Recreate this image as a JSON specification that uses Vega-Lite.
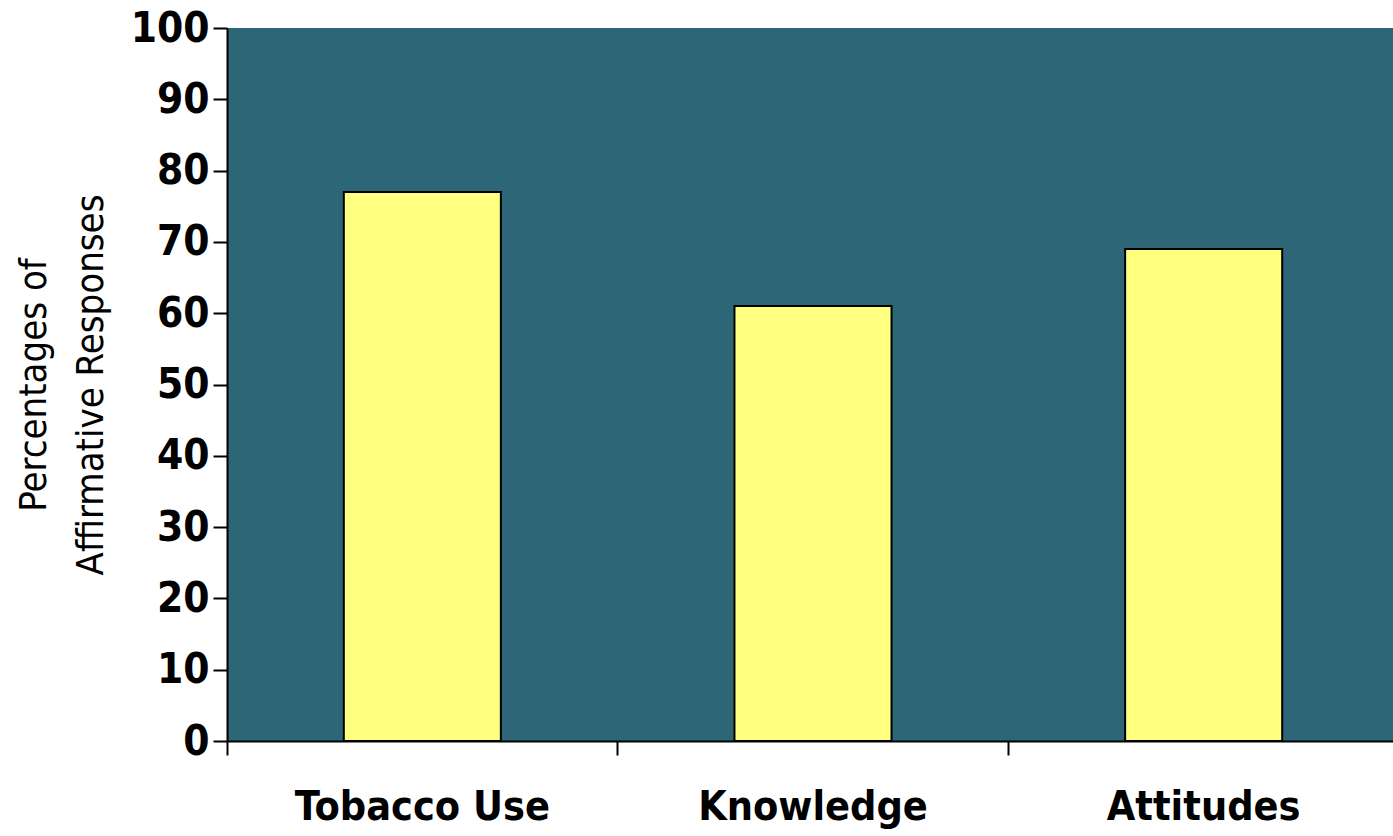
{
  "$schema": "https://vega.github.io/schema/vega-lite/v6.json",
  "width": 1172,
  "height": 713,
  "autosize": {"type": "none"},
  "padding": {"left": 227, "top": 28, "right": 0, "bottom": 95},
  "background": "white",
  "view": {"fill": "#2C6677", "stroke": null},
  "config": {"font": "'DejaVu Sans Condensed', Roboto, sans-serif"},
  "data": {
    "values": [
      {"category": "Tobacco Use", "value": 77},
      {"category": "Knowledge", "value": 61},
      {"category": "Attitudes", "value": 69}
    ]
  },
  "layer": [
    {
      "mark": {"type": "bar", "width": {"band": 0.402}, "fill": "#FFFF80", "stroke": "black", "strokeWidth": 2},
      "encoding": {
        "x": {
          "field": "category", "type": "nominal", "sort": null,
          "scale": {"paddingInner": 0, "paddingOuter": 0},
          "axis": {"orient": "bottom", "title": null, "labelAngle": 0, "ticks": false, "domain": false, "labelFontSize": 41, "labelFontWeight": "bold", "labelColor": "black", "labelPadding": 46, "labelLimit": 0}
        },
        "y": {
          "field": "value", "type": "quantitative",
          "scale": {"domain": [0, 100], "nice": false},
          "axis": {
            "values": [0, 10, 20, 30, 40, 50, 60, 70, 80, 90, 100],
            "grid": false, "tickSize": 14, "tickColor": "black", "tickWidth": 2,
            "domainColor": "black", "domainWidth": 2,
            "labelFontSize": 42, "labelFontWeight": "bold", "labelColor": "black", "labelPadding": 4,
            "title": ["Percentages of", "Affirmative Responses"],
            "titleFontSize": 38, "titleFontWeight": "normal", "titleColor": "black", "titlePadding": 20,
            "titleLineHeight": 57
          }
        }
      }
    },
    {
      "mark": {"type": "bar", "opacity": 0},
      "encoding": {
        "x": {
          "field": "category", "type": "nominal", "sort": null,
          "axis": {"orient": "bottom", "title": null, "labels": false, "bandPosition": 0, "tickSize": 14, "tickColor": "black", "tickWidth": 2, "domainColor": "black", "domainWidth": 2}
        },
        "y": {"field": "value", "type": "quantitative"}
      }
    }
  ],
  "resolve": {"axis": {"x": "independent"}}
}
